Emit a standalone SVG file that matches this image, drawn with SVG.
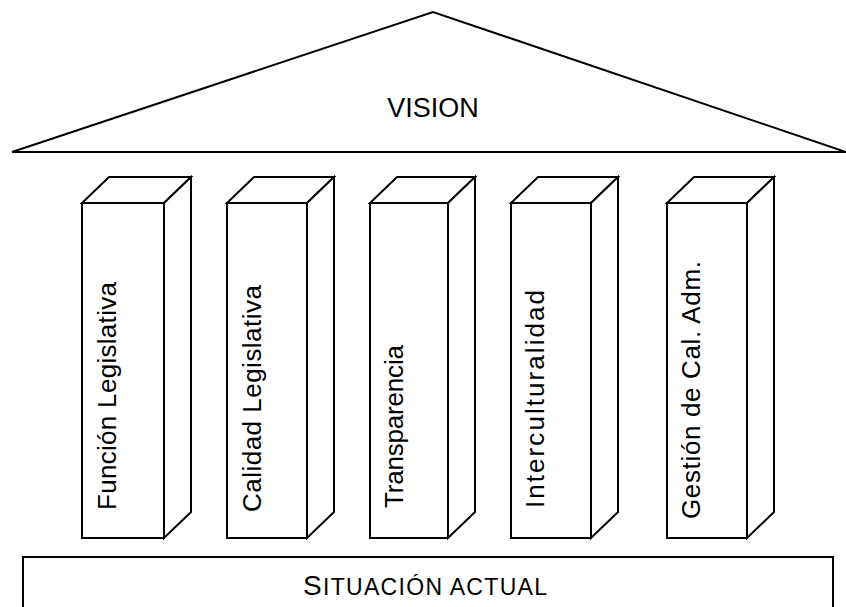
<svg xmlns="http://www.w3.org/2000/svg" width="846" height="607" viewBox="0 0 846 607">
<style>
.ln{fill:#fff;stroke:#000;stroke-width:2;stroke-linejoin:miter}
.tx{font-family:"Liberation Sans",Arial,sans-serif;fill:#000}
.lbl{font-size:26px}
</style>
<rect width="846" height="607" fill="#fff"/>
<g id="roof">
<polygon class="ln" points="12,152 433,12 846,152"/>
<text class="tx" x="433" y="117" font-size="27" text-anchor="middle">VISION</text>
</g>
<g id="col1">
<rect class="ln" x="82" y="203" width="82" height="335"/>
<polygon class="ln" points="82,203 109,177 191,177 164,203"/>
<polygon class="ln" points="164,203 191,177 191,512 164,538"/>
<text class="tx lbl" transform="translate(116,510) rotate(-90)" textLength="228" lengthAdjust="spacing">Función Legislativa</text>
</g>
<g id="col2">
<rect class="ln" x="227" y="203" width="80" height="335"/>
<polygon class="ln" points="227,203 254,177 334,177 307,203"/>
<polygon class="ln" points="307,203 334,177 334,512 307,538"/>
<text class="tx lbl" transform="translate(261,512) rotate(-90)" textLength="227" lengthAdjust="spacing">Calidad Legislativa</text>
</g>
<g id="col3">
<rect class="ln" x="370" y="203" width="78" height="335"/>
<polygon class="ln" points="370,203 397,177 475,177 448,203"/>
<polygon class="ln" points="448,203 475,177 475,512 448,538"/>
<text class="tx lbl" transform="translate(403,508) rotate(-90)" textLength="163" lengthAdjust="spacing">Transparencia</text>
</g>
<g id="col4">
<rect class="ln" x="511" y="203" width="80" height="335"/>
<polygon class="ln" points="511,203 538,177 618,177 591,203"/>
<polygon class="ln" points="591,203 618,177 618,512 591,538"/>
<text class="tx lbl" transform="translate(544,508) rotate(-90)" textLength="218" lengthAdjust="spacing">Interculturalidad</text>
</g>
<g id="col5">
<rect class="ln" x="667" y="203" width="80" height="335"/>
<polygon class="ln" points="667,203 694,177 774,177 747,203"/>
<polygon class="ln" points="747,203 774,177 774,512 747,538"/>
<text class="tx lbl" transform="translate(700,519) rotate(-90)" textLength="258" lengthAdjust="spacing">Gestión de Cal. Adm.</text>
</g>
<g id="base">
<rect class="ln" x="23" y="557" width="810" height="70"/>
<text class="tx" x="303" y="595" font-size="28" textLength="244" lengthAdjust="spacing">S<tspan font-size="23">ITUACIÓN ACTUAL</tspan></text>
</g>
<g id="connectors"/>
</svg>
